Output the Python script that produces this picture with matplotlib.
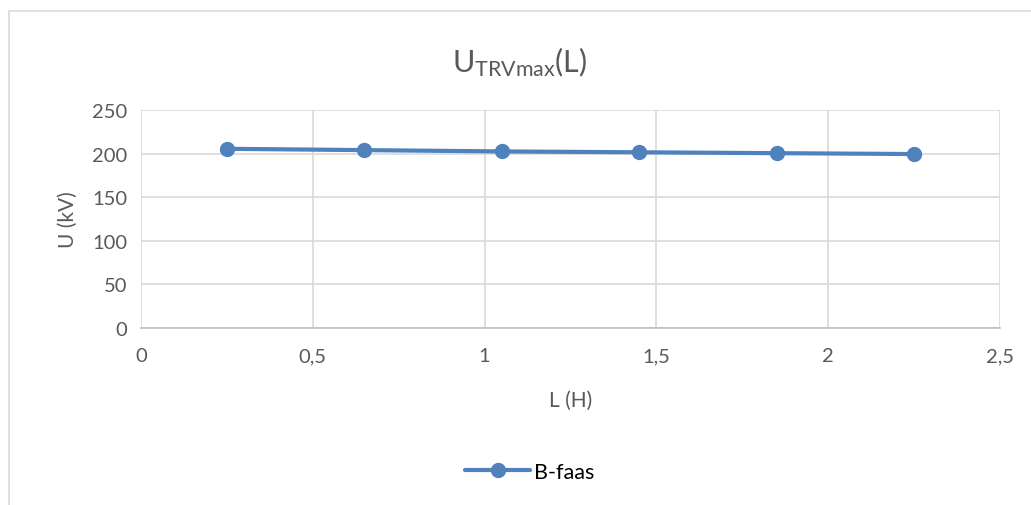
import matplotlib
matplotlib.use('Agg')
import matplotlib.pyplot as plt
from matplotlib.patches import Rectangle

# data
L_vals = [0.25, 0.65, 1.05, 1.45, 1.85, 2.25]
U_vals = [205.5, 204, 202.5, 201.5, 200.5, 199.5]
x_ticks = [0, 0.5, 1, 1.5, 2, 2.5]
x_labels = ['0', '0,5', '1', '1,5', '2', '2,5']
y_ticks = [0, 50, 100, 150, 200, 250]

plt.rcParams['font.family'] = ['Lato', 'DejaVu Sans']
plt.rcParams['mathtext.default'] = 'regular'

txt = '#595959'
grid = '#d9d9d9'
blue = '#4f81bd'

fig = plt.figure(figsize=(10.31, 5.06), dpi=100)
fig.patch.set_facecolor('white')

# outer chart border (cut off at right/bottom)
fig.add_artist(Rectangle((9 / 1031, -0.1), 1.2, (1 - 12 / 506) + 0.1,
                         transform=fig.transFigure, fill=False,
                         edgecolor='#d9d9d9', lw=1.2))

ax = fig.add_axes([141 / 1031, 1 - 329 / 506, (1000 - 141) / 1031, (329 - 111) / 506])
ax.plot(L_vals, U_vals, color=blue, lw=3, marker='o', ms=10, label='B-faas',
        solid_capstyle='round', zorder=3)

ax.set_xlim(0, 2.5)
ax.set_ylim(0, 250)
ax.set_xticks(x_ticks)
ax.set_xticklabels(x_labels)
ax.set_yticks(y_ticks)
ax.grid(True, color=grid, lw=1.2)
for s in ['top', 'right', 'left']:
    ax.spines[s].set_visible(False)
ax.spines['bottom'].set_color('#bfbfbf')
ax.spines['bottom'].set_linewidth(1.2)
ax.tick_params(length=0, labelsize=14.5, colors=txt, pad=14)
ax.tick_params(axis='y', pad=10)

ax.set_xlabel('L (H)', fontsize=15, color=txt, labelpad=18)
ax.set_ylabel('U (kV)', fontsize=15, color=txt, labelpad=10)

fig.text(520 / 1031, 1 - 62 / 506, r'$U_{TRVmax}(L)$', fontsize=22, color=txt,
         ha='center', va='center')

fig.legend(loc='center', bbox_to_anchor=(530 / 1031, 1 - 473 / 506), frameon=False,
           fontsize=15.5, handlelength=3, handletextpad=0.2,
           labelcolor='black')

fig.savefig('out.png', dpi=100)
